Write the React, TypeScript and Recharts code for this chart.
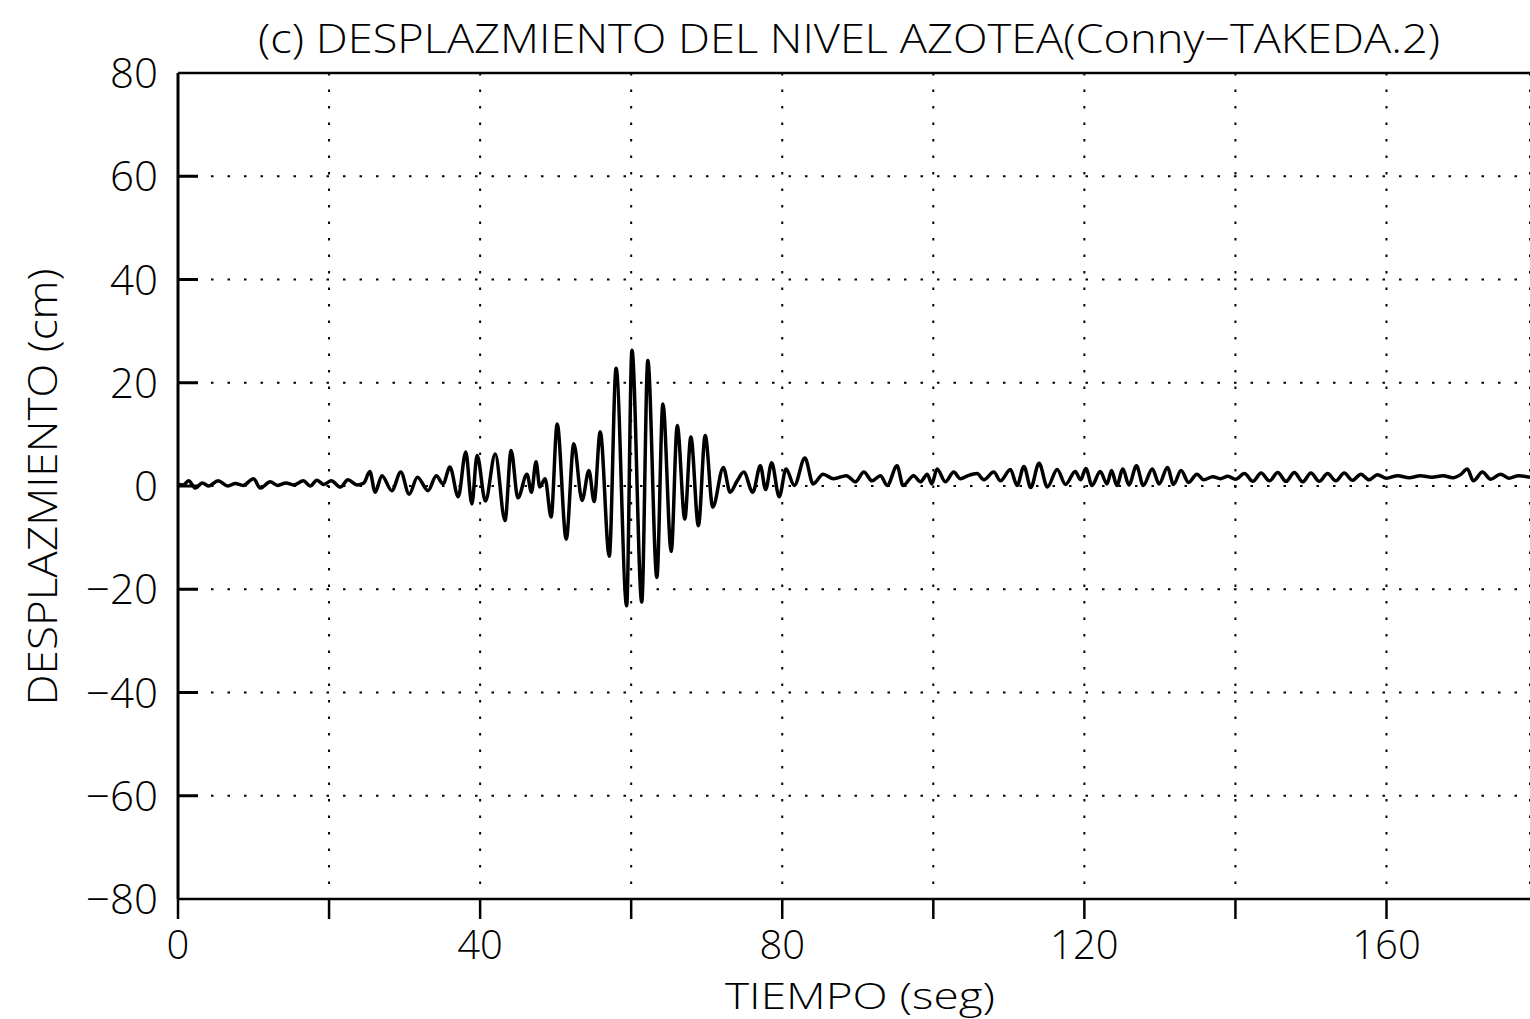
import React from 'react';
import { LineChart, Line, XAxis, YAxis, CartesianGrid, ReferenceLine } from 'recharts';

const TIME = [
  0, 0.7, 1.4, 2.3, 3.2, 4.1, 5.3, 6.6, 7.6, 8.6, 10.0, 10.9, 12.2, 13.2, 14.3, 15.3, 16.6, 17.5, 18.4, 19.3,
  20.3, 21.5, 22.5, 23.7, 24.6, 25.4, 26.1, 27.0, 28.3, 29.5, 30.6, 31.7, 33.1, 34.2, 35.1, 36.0, 37.1, 38.1, 38.9, 39.6,
  40.7, 42.0, 43.3, 44.1, 45.0, 46.2, 46.8, 47.4, 47.9, 48.6, 49.4, 50.2, 51.4, 52.4, 53.5, 54.4, 55.1, 55.9, 57.1, 58.0,
  59.4, 60.1, 61.4, 62.2, 63.4, 64.2, 65.3, 66.1, 67.1, 67.9, 68.9, 69.8, 70.8, 72.2, 73.1, 74.0, 74.9, 76.1, 77.1, 77.8,
  78.6, 79.6, 80.5, 81.6, 83.0, 84.1, 85.4, 86.8, 88.5, 89.7, 90.8, 91.9, 93.0, 93.9, 95.2, 96.0, 97.4, 98.3, 99.2, 99.8,
  100.5, 101.6, 102.7, 103.6, 104.6, 105.8, 106.7, 108.0, 108.9, 110.2, 111.1, 112.0, 112.9, 114.0, 115.1, 116.4, 117.5, 118.8, 119.5, 120.2,
  121.0, 122.1, 123.0, 123.6, 124.3, 125.1, 125.9, 126.9, 127.8, 129.0, 129.9, 131.0, 131.8, 132.8, 133.8, 134.9, 135.8, 137.0, 138.0, 139.0,
  140.0, 141.2, 142.3, 143.4, 144.5, 145.6, 146.7, 147.8, 148.9, 150.0, 151.1, 152.2, 153.3, 154.4, 155.5, 156.6, 157.7, 158.8, 160.0, 161.5,
  163.0, 164.5, 166.0, 167.5, 168.8, 169.8, 170.7, 171.5, 172.7, 173.8, 175.1, 176.2, 177.5, 179.0,
];

const DISP = [
  0.3, 0.2, 1.0, -0.4, 0.6, 0.0, 1.0, 0.0, 0.5, 0.1, 1.4, -0.4, 0.8, 0.1, 0.6, 0.2, 1.0, 0.0, 1.1, 0.3,
  1.0, -0.2, 1.2, 0.2, 0.6, 2.8, -1.2, 2.0, -0.9, 2.7, -1.6, 1.7, -0.9, 2.0, 0.4, 3.7, -2.1, 6.6, -3.5, 5.9,
  -2.9, 6.2, -6.7, 6.9, -2.3, 2.3, -1.2, 4.7, -0.2, 1.4, -6.0, 12.0, -10.3, 8.2, -2.8, 3.0, -3.0, 10.5, -13.6, 22.8,
  -23.2, 26.3, -22.5, 24.3, -17.7, 15.9, -12.7, 11.7, -6.4, 9.5, -7.7, 9.8, -4.1, 3.6, -1.2, 0.9, 2.7, -1.2, 3.9, -0.7,
  4.5, -2.1, 3.3, 0.1, 5.4, 0.4, 2.3, 1.4, 2.0, 0.8, 2.7, 1.0, 2.0, 0.1, 3.9, 0.1, 2.0, 0.8, 2.3, 0.4,
  3.3, 0.8, 2.7, 1.4, 2.0, 2.4, 1.2, 2.7, 1.0, 3.2, 0.1, 3.8, -0.3, 4.4, -0.2, 3.2, 0.3, 2.8, 1.2, 3.4,
  0.1, 2.8, 0.4, 3.0, 0.1, 3.3, 0.2, 3.9, 0.1, 3.3, 0.4, 3.6, 0.3, 3.0, 0.7, 2.3, 1.2, 1.8, 1.4, 1.9,
  1.3, 2.4, 0.9, 2.5, 1.0, 2.6, 0.9, 2.6, 0.8, 2.5, 0.9, 2.4, 1.0, 2.5, 1.1, 2.3, 1.2, 2.2, 1.5, 2.0,
  1.6, 2.0, 1.7, 2.0, 1.6, 2.2, 3.3, 1.0, 2.7, 1.3, 2.3, 1.5, 2.0, 1.7,
];

const X_TICKS = [0, 20, 40, 60, 80, 100, 120, 140, 160];
const X_LABELED = [0, 40, 80, 120, 160];
const Y_TICKS = [-80, -60, -40, -20, 0, 20, 40, 60, 80];

const TITLE = '(c)  DESPLAZMIENTO  DEL  NIVEL  AZOTEA(Conny\u2212TAKEDA.2)';
const X_LABEL = 'TIEMPO  (seg)';
const Y_LABEL = 'DESPLAZMIENTO  (cm)';

const data = TIME.map((t, i) => ({ t, d: DISP[i] }));

const FONT = "'Open Sans', 'Liberation Sans', sans-serif";

const fmt = (v: number) => (v < 0 ? '\u2212' + Math.abs(v) : String(v));

const XTick = (props: any) => {
  const { x, y, payload } = props;
  if (!X_LABELED.includes(payload.value)) return <g />;
  return (
    <text x={x} y={y + 32} textAnchor="middle" fontFamily={FONT} fontWeight={300} fontSize={40} fill="#000">
      {fmt(payload.value)}
    </text>
  );
};

const YTick = (props: any) => {
  const { x, y, payload } = props;
  return (
    <g>
      {payload.value !== 80 && payload.value !== -80 && (
        <line x1={x + 20} x2={x + 40} y1={y} y2={y} stroke="#000" strokeWidth={3} />
      )}
      <text x={x} y={y + 15} textAnchor="end" fontFamily={FONT} fontWeight={300} fontSize={42} fill="#000">
        {fmt(payload.value)}
      </text>
    </g>
  );
};

export default function App() {
  return (
    <div style={{ position: 'absolute', left: 0, top: 0, width: 1530, height: 1019, background: '#fff' }}>
      <LineChart width={1530} height={1019} data={data} margin={{ top: 73, right: 0, bottom: 60, left: 0 }}>
        <CartesianGrid stroke="#000" strokeWidth={2} strokeDasharray="2.5 14" />
        <XAxis
          type="number"
          dataKey="t"
          domain={[0, 179]}
          ticks={X_TICKS}
          allowDataOverflow
          height={60}
          tickSize={20}
          tickMargin={8}
          tickLine={{ stroke: '#000', strokeWidth: 2.5 }}
          axisLine={{ stroke: '#000', strokeWidth: 2.5 }}
          tick={<XTick />}
          interval={0}
        />
        <YAxis
          type="number"
          domain={[-80, 80]}
          ticks={Y_TICKS}
          width={178}
          tickSize={0}
          tickMargin={20}
          tickLine={false}
          axisLine={{ stroke: '#000', strokeWidth: 3 }}
          tick={<YTick />}
          interval={0}
        />
        <ReferenceLine y={80} stroke="#000" strokeWidth={2.5} />
        <Line
          dataKey="d"
          type="monotone"
          stroke="#000"
          strokeWidth={3.5}
          dot={false}
          isAnimationActive={false}
        />
      </LineChart>
      <svg width={1530} height={1019} style={{ position: 'absolute', left: 0, top: 0, pointerEvents: 'none' }}>
        <text x={258} y={53} fontFamily={FONT} fontWeight={300} fontSize={40} fill="#000" textLength={1182} lengthAdjust="spacingAndGlyphs">
          {TITLE}
        </text>
        <text x={725} y={1009} fontFamily={FONT} fontWeight={300} fontSize={36} fill="#000" textLength={270} lengthAdjust="spacingAndGlyphs">
          {X_LABEL}
        </text>
        <text
          x={0}
          y={0}
          transform="translate(57,487) rotate(-90)"
          textAnchor="middle"
          fontFamily={FONT}
          fontWeight={300}
          fontSize={40}
          fill="#000"
          textLength={437}
          lengthAdjust="spacingAndGlyphs"
        >
          {Y_LABEL}
        </text>
      </svg>
    </div>
  );
}
